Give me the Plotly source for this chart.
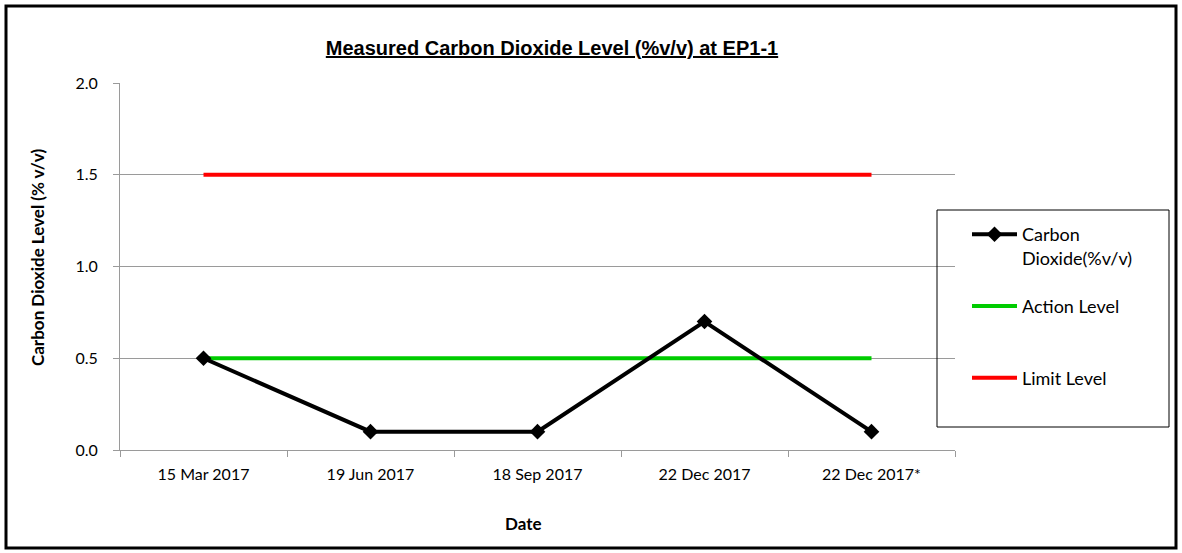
import plotly.graph_objects as go

dates = ["15 Mar 2017", "19 Jun 2017", "18 Sep 2017", "22 Dec 2017", "22 Dec 2017*"]
co2 = [0.5, 0.1, 0.1, 0.7, 0.1]
action_level = [0.5, 0.5, 0.5, 0.5, 0.5]
limit_level = [1.5, 1.5, 1.5, 1.5, 1.5]

body_font = "Lato"
grid_grey = "#9A9A9A"
W, H = 1182, 553
L, R, T, B = 120, 227, 83, 103
pw, ph = W - L - R, H - T - B


def px_x(x):
    return (x - L) / pw


def px_y(y):
    return (H - B - y) / ph


fig = go.Figure()
fig.add_trace(go.Scatter(x=dates, y=action_level, name="Action Level<br> ", mode="lines",
                         line=dict(color="#00CC00", width=4), legendgroup="b", legendrank=2))
fig.add_trace(go.Scatter(x=dates, y=limit_level, name="Limit Level", mode="lines",
                         line=dict(color="#FF0000", width=4), legendgroup="c", legendrank=3))
fig.add_trace(go.Scatter(x=dates, y=co2, name="Carbon<br>Dioxide(%v/v)", mode="lines+markers",
                         line=dict(color="black", width=4),
                         marker=dict(symbol="diamond", size=12, color="black"),
                         legendgroup="a", legendrank=1))

fig.update_layout(
    width=W, height=H,
    margin=dict(l=L, r=R, t=T, b=B),
    paper_bgcolor="white", plot_bgcolor="white",
    font=dict(family=body_font, size=16, color="black"),
    title=dict(text="<b><u>Measured Carbon Dioxide Level (%v/v) at EP1-1</u></b>",
               font=dict(family="Liberation Sans", size=20, color="black"),
               x=552 / W, xanchor="center", y=1 - 48 / H, yanchor="middle"),
    xaxis=dict(type="category", range=[-0.5, 4.5], tickson="boundaries",
               ticks="outside", ticklen=6, tickcolor=grid_grey,
               showline=True, linecolor=grid_grey, linewidth=1,
               showgrid=False, tickfont=dict(size=16), ticklabelstandoff=10),
    yaxis=dict(range=[0, 2.0], dtick=0.5, tickformat=".1f",
               ticks="outside", ticklen=6, tickcolor=grid_grey,
               showline=True, linecolor=grid_grey, linewidth=1,
               gridcolor=grid_grey, gridwidth=1, zeroline=False,
               tickfont=dict(size=16), ticklabelstandoff=12),
    showlegend=True,
    legend=dict(x=px_x(967), y=px_y(216), xanchor="left", yanchor="top",
                traceorder="grouped", tracegroupgap=22, itemwidth=45, valign="top",
                bgcolor="rgba(0,0,0,0)", borderwidth=0,
                font=dict(family=body_font, size=18)),
    annotations=[
        dict(text="<b>Date</b>", xref="paper", yref="paper", x=px_x(523), y=px_y(523),
             xanchor="center", yanchor="middle", showarrow=False, font=dict(size=17)),
        dict(text="<b>Carbon Dioxide Level (% v/v)</b>", xref="paper", yref="paper",
             x=px_x(37), y=px_y(258), textangle=-90,
             xanchor="center", yanchor="middle", showarrow=False, font=dict(size=17)),
    ],
    shapes=[
        dict(type="rect", xref="paper", yref="paper",
             x0=px_x(937), x1=px_x(1169), y0=px_y(427), y1=px_y(210),
             line=dict(color="black", width=1)),
        dict(type="rect", xref="paper", yref="paper",
             x0=px_x(6), x1=px_x(1176), y0=px_y(548), y1=px_y(6),
             line=dict(color="black", width=3)),
    ],
)

fig.write_html("out.html", config={"displayModeBar": False},
               post_script="document.body.style.margin='0';")
